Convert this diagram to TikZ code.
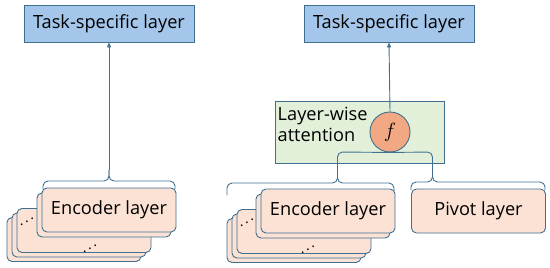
\documentclass[tikz,border=0pt]{standalone}
\usepackage{fontspec}
\setmainfont{Open Sans}
\usetikzlibrary{arrows.meta}
\definecolor{ln}{HTML}{3F6F91}
\definecolor{taskfill}{HTML}{A4C6EA}
\definecolor{peach}{HTML}{FBE2D5}
\definecolor{greenfill}{HTML}{E2F0D9}
\definecolor{circfill}{HTML}{F2A882}
\begin{document}
\begin{tikzpicture}[x=1pt,y=-1pt,
  lbl/.style={font=\fontsize{18.2}{20.5}\selectfont},
  taskbox/.style={draw=ln, fill=taskfill, line width=0.9pt, minimum width=170pt, minimum height=37pt, inner sep=0pt, lbl},
  encbox/.style={draw=ln, fill=peach, rounded corners=5pt, line width=0.9pt, minimum width=134pt, minimum height=44pt, inner sep=0pt, lbl},
  conn/.style={draw=ln, line width=0.9pt, rounded corners=5pt},
  arr/.style={draw=ln, line width=0.9pt, -{Triangle[length=5pt,width=4pt]}},
  dotsym/.style={inner sep=0pt, font=\fontsize{14}{14}\selectfont}
]
\useasboundingbox (0,0) rectangle (550,268);

% ---------- left picture ----------
\node[taskbox] (taskL) at (109,23.5) {Task-specific layer};

\node[encbox] (lC) at (74,239.5) {};
\node[encbox] (lB) at (79,235) {};
\node[encbox] (lA) at (84,230.5) {};
\node[dotsym] (lAd1) at (27,219) {\reflectbox{$\ddots$}};
\node[dotsym] (lAd2) at (90,246) {\reflectbox{$\ddots$}};
\node[encbox] (l2) at (104,215) {};
\node[encbox] (l1) at (109,210) {Encoder layer};

\coordinate (tipL) at (109,170);
\draw[conn] (43,189) -- (43,181) -- (109,181) -- (tipL);
\draw[conn] (175,189) -- (175,181) -- (109,181) -- (tipL);
\draw[arr] (tipL) -- (taskL.south);

% ---------- right picture ----------
\node[taskbox] (taskR) at (389,23.5) {Task-specific layer};

\node[draw=ln, fill=greenfill, line width=0.9pt, minimum width=169pt, minimum height=62pt, inner sep=0pt] (att) at (359.5,132) {};
\node[lbl, anchor=north west, align=left, inner sep=0pt] (attlbl) at (277.5,107) {Layer-wise\\attention};
\node[draw=ln, fill=circfill, line width=0.9pt, circle, minimum size=40pt, inner sep=0pt, font=\fontsize{21}{21}\selectfont] (f) at (390,132) {$f$};

\node[encbox] (rC) at (294,240.5) {};
\node[encbox] (rB) at (299,236) {};
\node[encbox] (rA) at (304,231.5) {};
\node[dotsym] (rAd1) at (247,219.5) {\reflectbox{$\ddots$}};
\node[dotsym] (rAd2) at (308,246.5) {\reflectbox{$\ddots$}};
\node[encbox] (r2) at (323,216) {};
\node[encbox] (r1) at (328,211) {Encoder layer};

\node[encbox] (piv) at (478.5,211) {Pivot layer};

\coordinate (tipE) at (337.5,172);
\coordinate (tipP) at (432.5,172);
\draw[conn] (227,195) -- (227,183) -- (337.5,183) -- (337.5,152) -- (f.south);
\draw[conn] (394,191) -- (394,183) -- (337.5,183) -- (tipE);
\draw[conn] (411,190) -- (411,182) -- (432.5,182) -- (432.5,152) -- (f.south);
\draw[conn] (545,190) -- (545,182) -- (432.5,182) -- (tipP);
\draw[arr] (f.north) -- (taskR.south);
\end{tikzpicture}
\end{document}
